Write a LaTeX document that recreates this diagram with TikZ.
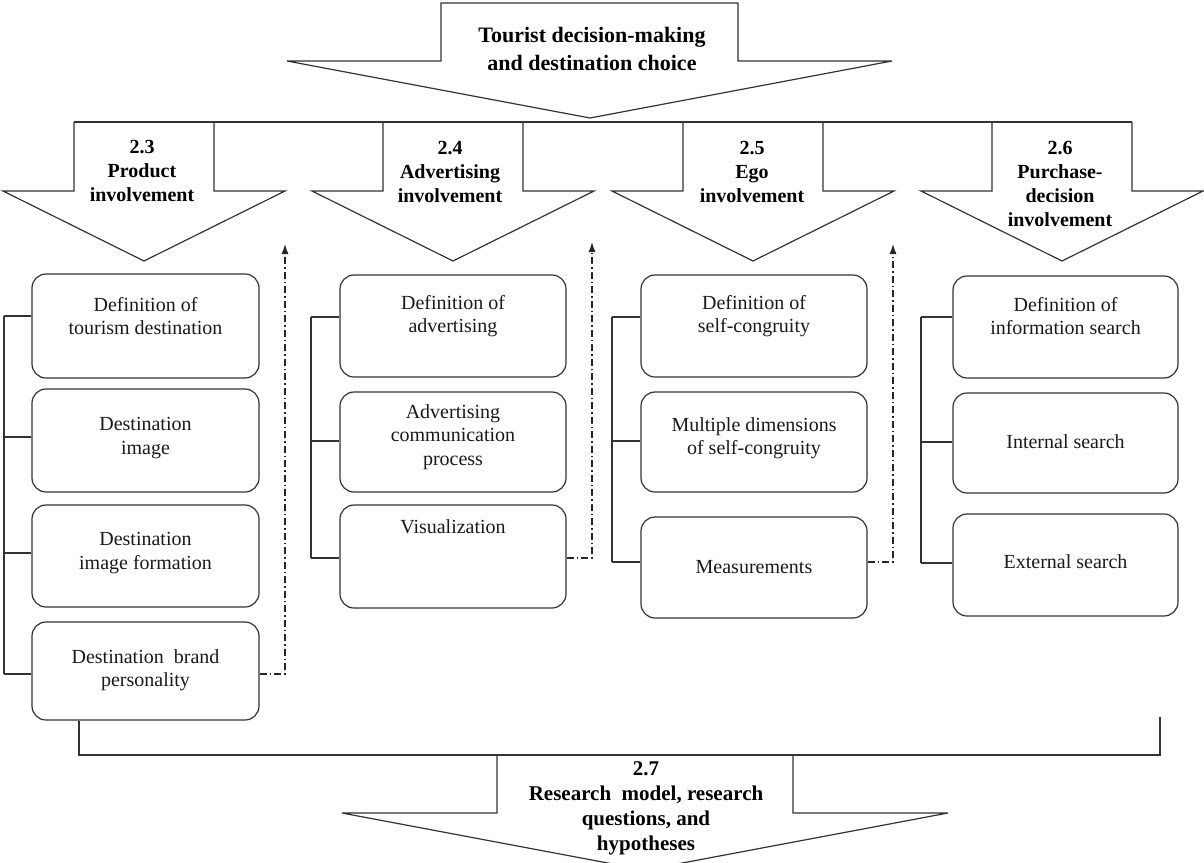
\documentclass[tikz,border=0pt]{standalone}
\usepackage{fontspec}
\setmainfont{Liberation Serif}
\usetikzlibrary{arrows.meta}
\tikzset{
  outline/.style={draw=black!80, line width=1.2pt, line join=miter},
  box/.style args={#1x#2}{draw=black!80, line width=1.2pt, rounded corners=14pt,
    inner sep=0pt, minimum width=#1pt, minimum height=#2pt},
  boxtext/.style={align=center, inner sep=0pt, text=black!90,
    font=\fontsize{20}{23.5}\selectfont},
  sectxt/.style={align=center, inner sep=0pt, text=black,
    font=\bfseries\fontsize{20}{24}\selectfont},
  titletxt/.style={align=center, inner sep=0pt, text=black,
    font=\bfseries\fontsize{22}{28}\selectfont},
  bottomtxt/.style={align=center, inner sep=0pt, text=black,
    font=\bfseries\fontsize{21}{25}\selectfont},
  dashdot/.style={draw=black!85, line width=1.2pt,
    dash pattern=on 7pt off 3pt on 1.5pt off 3pt,
    -{Latex[length=10pt,width=7pt]}},
}
\begin{document}
\begin{tikzpicture}[x=1pt, y=-1pt]
\useasboundingbox (0,0) rectangle (1204,862);
\clip (0,0) rectangle (1204,862);

% main block arrow
\draw[outline] (441,3) -- (738,3) -- (738,61) -- (892,61) -- (590,118)
  -- (287,61) -- (441,61) -- cycle;
\node[titletxt] (title) at (592,49) {Tourist decision-making\\and destination choice};

% section arrows hanging from a common bar
\draw[outline] (74,122) -- (1132,122);
\foreach \c in {144,453,753,1062}{
  \draw[outline] ({\c-70},122) -- ({\c-70},191) -- ({\c-141},191) -- (\c,261)
    -- ({\c+141},191) -- ({\c+70},191) -- ({\c+70},122);
}
\node[sectxt] (s23) at (142,171) {2.3\\Product\\involvement};
\node[sectxt] (s24) at (450,172) {2.4\\Advertising\\involvement};
\node[sectxt] (s25) at (752,172) {2.5\\Ego\\involvement};
\node[sectxt] (s26) at (1060,184) {2.6\\Purchase-\\decision\\involvement};

% column 2.3
\node[box=227x104] (b11) at (145.5,326) {};
\node[box=227x103] (b12) at (145.5,440.5) {};
\node[box=227x102] (b13) at (145.5,556) {};
\node[box=227x98]  (b14) at (145.5,671) {};
\node[boxtext] (t11) at (145.5,316) {Definition of\\tourism destination};
\node[boxtext] (t12) at (145.5,438) {Destination\\image};
\node[boxtext] (t13) at (145.5,553) {Destination\\image formation};
\node[boxtext] (t14) at (145.5,670) {Destination\hspace{0.5em}brand\\personality};

% column 2.4
\node[box=226x102] (b21) at (453,326) {};
\node[box=226x100] (b22) at (453,442) {};
\node[box=226x103] (b23) at (453,556.5) {};
\node[boxtext] (t21) at (453,316) {Definition of\\advertising};
\node[boxtext] (t22) at (453,437) {Advertising\\communication\\process};
\node[boxtext] (t23) at (453,527) {Visualization};

% column 2.5
\node[box=226x102] (b31) at (754,326) {};
\node[box=226x100] (b32) at (754,442) {};
\node[box=226x101] (b33) at (754,567.5) {};
\node[boxtext] (t31) at (754,316) {Definition of\\self-congruity};
\node[boxtext] (t32) at (754,438) {Multiple dimensions\\of self-congruity};
\node[boxtext] (t33) at (754,567) {Measurements};

% column 2.6
\node[box=225x102] (b41) at (1065.5,327) {};
\node[box=225x100] (b42) at (1065.5,443) {};
\node[box=225x102] (b43) at (1065.5,565) {};
\node[boxtext] (t41) at (1065.5,316) {Definition of\\information search};
\node[boxtext] (t42) at (1065.5,442) {Internal search};
\node[boxtext] (t43) at (1065.5,562) {External search};

% left brackets joining each column
\draw[outline] (4,316) -- (4,674);
\foreach \b/\y in {b11/316, b12/437, b13/553, b14/674}
  \draw[outline] (4,\y) -- (\b.west |- 0,\y);
\draw[outline] (311,317) -- (311,558);
\foreach \b/\y in {b21/317, b22/441, b23/558}
  \draw[outline] (311,\y) -- (\b.west |- 0,\y);
\draw[outline] (612,317) -- (612,562);
\foreach \b/\y in {b31/317, b32/441, b33/562}
  \draw[outline] (612,\y) -- (\b.west |- 0,\y);
\draw[outline] (921,317) -- (921,563);
\foreach \b/\y in {b41/317, b42/442, b43/563}
  \draw[outline] (921,\y) -- (\b.west |- 0,\y);

% dash-dot feedback arrows
\coordinate (f1) at (285,244);
\coordinate (f2) at (592,242);
\coordinate (f3) at (893,244);
\draw[dashdot] (b14.east |- 0,674) -| (f1);
\draw[dashdot] (b23.east |- 0,558) -| (f2);
\draw[dashdot] (b33.east |- 0,562) -| (f3);

% closing bar and final block arrow
\coordinate (rend) at (1160,717);
\draw[outline] (b14.south -| 79,0) -- (79,755) -- (1160,755) -- (rend);
\draw[outline] (497,755) -- (497,813) -- (342,813) -- (645,870)
  -- (948,813) -- (793,813) -- (793,755);
\node[bottomtxt] (s27) at (646,808) {2.7\\Research~ model, research\\questions, and\\hypotheses};
\end{tikzpicture}
\end{document}
